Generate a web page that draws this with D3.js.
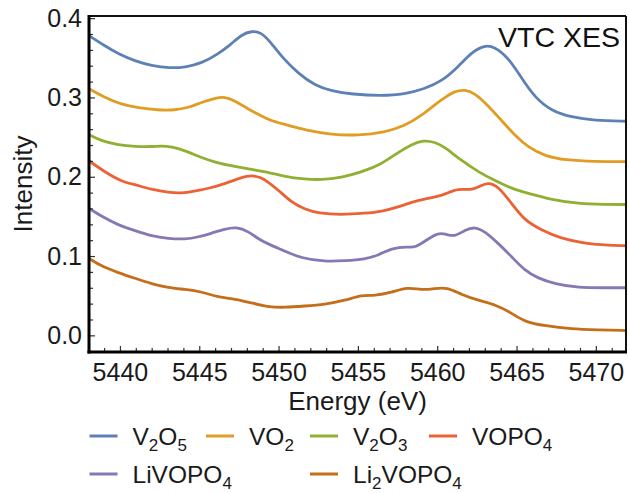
<!DOCTYPE html>
<html>
<head>
<meta charset="utf-8">
<script src="https://cdn.jsdelivr.net/npm/d3@7"></script>
<style>
  body { margin: 0; background: #fff; }
  svg { display: block; font-family: "Liberation Sans", Arial, Helvetica, sans-serif; }
</style>
</head>
<body>
<div id="chart"></div>
<script>
// values (energy in eV, intensity)
var v2o5 = [[5438.05,0.378],[5439.05,0.365],[5439.9,0.355],[5440.95,0.346],[5442.0,0.340],[5443.15,0.337],[5444.1,0.338],[5445.15,0.343],[5446.2,0.355],[5447.0,0.367],[5447.65,0.379],[5448.3,0.384],[5448.9,0.382],[5449.45,0.371],[5450.2,0.351],[5451.25,0.330],[5452.3,0.315],[5453.35,0.308],[5454.6,0.304],[5456.5,0.302],[5457.95,0.304],[5459.2,0.311],[5460.25,0.320],[5461.3,0.338],[5462.15,0.357],[5463.0,0.366],[5463.6,0.364],[5464.45,0.351],[5465.3,0.325],[5466.15,0.300],[5467.2,0.283],[5468.45,0.275],[5469.9,0.271],[5471.9,0.270]];
var vo2 = [[5438.05,0.311],[5439.05,0.300],[5440.1,0.291],[5441.15,0.287],[5442.4,0.284],[5443.45,0.284],[5444.3,0.287],[5445.15,0.294],[5446.0,0.299],[5446.6,0.301],[5447.25,0.296],[5448.1,0.285],[5448.9,0.277],[5449.45,0.271],[5450.4,0.266],[5451.65,0.259],[5453.35,0.253],[5455.0,0.252],[5456.7,0.256],[5457.95,0.264],[5459.0,0.277],[5460.05,0.294],[5460.5,0.300],[5461.1,0.308],[5461.75,0.310],[5462.4,0.305],[5463.2,0.290],[5464.05,0.271],[5464.9,0.252],[5465.75,0.237],[5466.8,0.226],[5468.05,0.221],[5469.95,0.219],[5471.9,0.219]];
var v2o3 = [[5438.05,0.253],[5438.85,0.245],[5439.9,0.240],[5440.95,0.238],[5442.0,0.238],[5442.6,0.239],[5443.25,0.238],[5444.1,0.233],[5445.15,0.224],[5446.2,0.217],[5447.25,0.213],[5448.3,0.209],[5449.3,0.206],[5450.4,0.200],[5451.65,0.197],[5452.7,0.196],[5453.95,0.199],[5455.25,0.206],[5456.5,0.216],[5457.55,0.231],[5458.4,0.241],[5459.1,0.246],[5459.85,0.244],[5460.5,0.237],[5461.55,0.220],[5462.6,0.206],[5463.65,0.195],[5464.7,0.185],[5465.75,0.179],[5467.2,0.171],[5468.9,0.166],[5470.55,0.165],[5471.9,0.165]];
var vopo4 = [[5438.05,0.220],[5439.05,0.206],[5440.1,0.194],[5440.95,0.190],[5442.0,0.184],[5443.05,0.180],[5443.9,0.179],[5444.7,0.182],[5445.55,0.185],[5446.6,0.191],[5447.65,0.199],[5448.3,0.202],[5448.9,0.199],[5449.3,0.194],[5450.0,0.183],[5450.8,0.168],[5451.65,0.159],[5452.5,0.154],[5453.95,0.152],[5455.45,0.154],[5456.5,0.156],[5457.55,0.162],[5458.4,0.168],[5459.2,0.172],[5460.05,0.175],[5460.6,0.179],[5461.3,0.185],[5462.15,0.183],[5462.7,0.188],[5463.2,0.193],[5463.85,0.188],[5464.7,0.166],[5465.5,0.145],[5466.55,0.133],[5467.8,0.122],[5469.3,0.116],[5470.55,0.114],[5471.9,0.113]];
var livopo4 = [[5438.05,0.160],[5438.85,0.150],[5439.9,0.139],[5440.95,0.132],[5442.0,0.125],[5443.05,0.122],[5444.1,0.121],[5444.95,0.124],[5445.8,0.129],[5446.6,0.134],[5447.35,0.137],[5448.1,0.131],[5448.7,0.122],[5449.25,0.116],[5450.2,0.108],[5451.45,0.097],[5452.9,0.093],[5454.2,0.094],[5455.45,0.096],[5456.3,0.101],[5457.1,0.110],[5458.15,0.112],[5458.6,0.110],[5459.45,0.122],[5460.05,0.129],[5460.5,0.128],[5461.1,0.124],[5461.75,0.133],[5462.4,0.137],[5463.0,0.131],[5463.85,0.116],[5464.7,0.099],[5465.5,0.082],[5466.35,0.072],[5467.4,0.065],[5468.9,0.060],[5470.55,0.060],[5471.9,0.060]];
var li2vopo4 = [[5438.05,0.097],[5438.85,0.087],[5439.9,0.079],[5440.95,0.072],[5442.0,0.065],[5443.05,0.060],[5444.1,0.058],[5445.15,0.055],[5446.2,0.048],[5447.25,0.046],[5448.3,0.041],[5449.25,0.036],[5450.4,0.035],[5451.65,0.037],[5452.9,0.039],[5454.2,0.044],[5455.25,0.051],[5456.05,0.050],[5457.1,0.054],[5458.15,0.061],[5459.0,0.057],[5459.85,0.059],[5460.6,0.061],[5461.55,0.051],[5462.6,0.044],[5463.65,0.039],[5464.7,0.028],[5465.5,0.017],[5466.8,0.012],[5468.45,0.008],[5470.15,0.007],[5471.9,0.006]];

// labels as [normal, sub, normal, sub...]
var names = [["V","2","O","5"],["VO","2"],["V","2","O","3"],["VOPO","4"],["LiVOPO","4"],["Li","2","VOPO","4"]];
var colors = ["#5E81B5","#E19C24","#8FB032","#EB6235","#8778B3","#C56E1A"];
var seriesData = [v2o5, vo2, v2o3, vopo4, livopo4, li2vopo4];

var xTicks = [5440,5445,5450,5455,5460,5465,5470];
var yTicks = [0.0,0.1,0.2,0.3,0.4];

var W = 629, H = 493;
var margin = {top: 16, right: 3, bottom: 141, left: 89},
    width = W - margin.left - margin.right,
    height = H - margin.top - margin.bottom;

var x = d3.scaleLinear()
    .domain([5438.05, 5471.9])
    .range([0, width]);

var y = d3.scaleLinear()
    .domain([-0.021, 0.4027])
    .range([height, 0]);

var line = d3.line()
    .x(function(d){return x(d[0]);})
    .y(function(d){return y(d[1]);})
    .curve(d3.curveBasis);

var svg = d3.select("#chart")
    .append("svg")
    .attr("width", W)
    .attr("height", H);

var g = svg.append("g")
    .attr("transform","translate(" + margin.left + "," + margin.top + ")");

g.append("clipPath")
    .attr("id","clip")
    .append("rect")
    .attr("width", width)
    .attr("height", height);

// curves
g.append("g")
    .attr("clip-path","url(#clip)")
    .selectAll("path")
    .data(seriesData)
    .enter()
    .append("path")
    .attr("d", line)
    .style("fill","none")
    .style("stroke", function(d,i){return colors[i];})
    .style("stroke-width","2.8px")
    .style("stroke-linejoin","round");

// minor ticks
var xMinor = d3.range(5439, 5472, 1).filter(function(v){return v % 5 !== 0;});
var yMinor = d3.range(0, 0.401, 0.02).filter(function(v){return Math.abs(v*10 - Math.round(v*10)) > 1e-6;});

g.append("g")
    .attr("transform","translate(0," + height + ")")
    .call(d3.axisBottom(x).tickValues(xMinor).tickSize(-4).tickFormat(""))
    .call(function(a){a.select(".domain").remove();});

g.append("g")
    .call(d3.axisLeft(y).tickValues(yMinor).tickSize(-4).tickFormat(""))
    .call(function(a){a.select(".domain").remove();});

// major ticks + labels
var xAxis = g.append("g")
    .attr("transform","translate(0," + height + ")")
    .call(d3.axisBottom(x).tickValues(xTicks).tickSize(-6).tickPadding(11).tickFormat(d3.format("d")));
xAxis.select(".domain").remove();

var yAxis = g.append("g")
    .call(d3.axisLeft(y).tickValues(yTicks).tickSize(-6).tickPadding(7).tickFormat(d3.format(".1f")));
yAxis.select(".domain").remove();

g.selectAll(".tick line").style("stroke","#333").style("stroke-width","1.2px");
g.selectAll(".tick text")
    .style("font-size","25px")
    .style("fill","#1a1a1a")
    .style("font-family","Liberation Sans, Arial, sans-serif");

// frame
g.append("line").attr("x1",0).attr("y1",0).attr("x2",width).attr("y2",0)
    .style("stroke","#111").style("stroke-width","2px");
g.append("line").attr("x1",width).attr("y1",0).attr("x2",width).attr("y2",height)
    .style("stroke","#111").style("stroke-width","2px");
g.append("line").attr("x1",0).attr("y1",-1).attr("x2",0).attr("y2",height+1.5)
    .style("stroke","#000").style("stroke-width","3px");
g.append("line").attr("x1",-1.5).attr("y1",height).attr("x2",width+1).attr("y2",height)
    .style("stroke","#000").style("stroke-width","3px");

// titles
svg.append("text")
    .attr("x", 620)
    .attr("y", 47)
    .attr("text-anchor","end")
    .style("font-size","28.5px")
    .style("fill","#111")
    .text("VTC XES");

svg.append("text")
    .attr("x", margin.left + width/2)
    .attr("y", 410)
    .attr("text-anchor","middle")
    .style("font-size","26px")
    .style("fill","#1a1a1a")
    .text("Energy (eV)");

svg.append("text")
    .attr("transform","translate(32," + (margin.top + height/2) + ") rotate(-90)")
    .attr("text-anchor","middle")
    .style("font-size","26px")
    .style("fill","#1a1a1a")
    .text("Intensity");

// legend
var legendPos = [[89.5,436],[206,436],[310,436],[429,436],[89.5,474],[310,474]];

var leg = svg.selectAll(".leg")
    .data(names)
    .enter()
    .append("g")
    .attr("class","leg")
    .attr("transform", function(d,i){return "translate(" + legendPos[i][0] + "," + legendPos[i][1] + ")";});

leg.append("line")
    .attr("x1",0).attr("x2",28).attr("y1",0).attr("y2",0)
    .style("stroke", function(d,i){return colors[i];})
    .style("stroke-width","3px");

leg.append("text")
    .attr("x", 43)
    .attr("y", 8.5)
    .style("font-size","24.5px")
    .style("fill","#1a1a1a")
    .each(function(parts){
        var t = d3.select(this);
        var shift = 0;
        parts.forEach(function(p, k){
            var sub = k % 2 === 1;
            var dy = sub ? 6 - shift : -shift;
            shift = sub ? 6 : 0;
            t.append("tspan")
                .attr("dy", dy)
                .style("font-size", sub ? "17px" : "24.5px")
                .text(p);
        });
    });
</script>
</body>
</html>
